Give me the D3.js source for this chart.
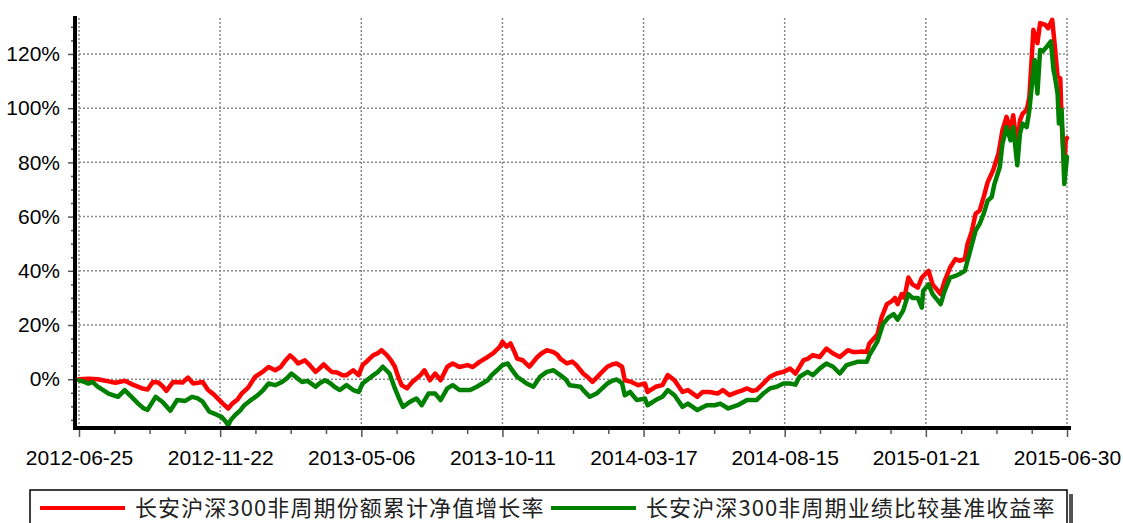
<!DOCTYPE html>
<html><head><meta charset="utf-8">
<script src="https://cdn.jsdelivr.net/npm/d3@7"></script>
<style>
html,body{margin:0;padding:0;background:#fff;}
svg{display:block;}
</style>
</head><body>
<svg id="chart" width="1123" height="523"></svg>
<script>
// ---- data (trading-day index from 2012-06-25, cumulative return %) ----
const tickLabels = ["2012-06-25","2012-11-22","2013-05-06","2013-10-11","2014-03-17","2014-08-15","2015-01-21","2015-06-30"];
const tickDays = [0,105,210,315,420,525,630,735];
const yTickValues = [0,20,40,60,80,100,120];
const seriesNames = ["长安沪深300非周期份额累计净值增长率","长安沪深300非周期业绩比较基准收益率"];
const seriesColors = ["#ff0000","#008000"];

const redDays = [0,7,14,22,27,34,40,47,51,55,59,62,65,70,77,81,85,92,96,100,103,107,111,114,118,121,126,131,136,141,146,150,153,157,160,163,168,172,176,179,182,185,188,192,196,199,204,208,211,215,219,222,225,229,232,235,237,240,244,248,254,257,261,265,269,274,278,283,289,293,298,304,308,313,315,318,321,324,326,330,335,341,344,348,353,356,358,363,367,370,375,379,382,385,388,393,397,400,404,406,411,416,421,423,429,434,438,443,449,453,460,464,469,475,479,484,490,493,497,501,504,509,514,519,524,529,533,536,539,542,546,551,556,561,566,572,576,579,582,586,588,594,597,601,605,607,609,612,614,617,620,624,627,632,635,641,644,648,652,655,659,661,664,667,670,673,676,680,684,687,690,693,695,698,700,702,705,707,710,713,715,719,721,724,726,728,730,731,733,734,735];
const redPct  = [0,0.2,0,-0.8,-1.3,-0.6,-2.0,-3.4,-3.8,-1,-1.2,-2.5,-4.3,-1,-1.2,0.6,-1.6,-1,-4,-5.5,-7,-9,-10.8,-9,-7.5,-5.3,-3,0.9,2.5,4.5,3.3,4.5,6.5,8.8,7.5,5.8,7,5,2.7,4,5.5,4,2.7,2.5,1.5,1.5,3.3,1.5,5.2,7,8.9,9.5,10.7,8.9,7,4.6,1.5,-2.2,-3.4,-1,1.5,3.3,-0.4,2.1,-0.4,4.6,5.8,4.5,5.2,4.5,6.4,8.2,9.5,11.9,13.8,12,13.2,10,7.6,7,4.6,8.2,9.5,10.7,10,9,7.6,5.8,6.5,5.2,2.1,0.5,-1,0.5,2.1,4.6,5.5,5.8,4.6,-0.4,-1,-2.2,-1.6,-4.7,-2.8,-2.2,1.5,-0.4,-4.7,-4,-6.5,-4.7,-4.7,-5.3,-4,-5.9,-4.7,-4.2,-3.4,-4.3,-4,-1.6,0.9,2.1,2.7,3.9,2.1,4.5,7,7.5,8.9,8.2,11.3,9.5,8.2,10.7,10,10,10.2,10,13.2,16.5,22.7,27.7,28.9,30,27.7,31.4,30,37.5,35,33.8,37.5,40,35,31.4,36.3,41.2,44.3,43.7,44.3,49.9,54.2,61,62.2,67.2,72.7,77,83.2,91.9,96.8,91.9,97.4,85,95.5,98,99.3,104,128.9,124,131.4,130.7,129.5,132.6,122.7,111.6,111,95,78,88,89];

const greenDays = [0,4,7,10,14,18,22,29,34,40,44,48,51,57,62,68,73,79,84,88,92,97,102,106,109,111,113,116,120,123,127,133,137,141,146,151,155,158,162,166,170,176,179,183,187,190,194,199,204,208,211,215,219,222,226,231,235,238,241,246,251,255,260,265,269,274,278,283,291,296,304,307,311,315,319,322,326,330,333,338,343,348,353,358,362,365,373,376,380,385,389,393,397,400,404,406,410,415,421,423,429,434,438,443,449,453,460,467,473,477,483,490,497,504,509,514,519,524,529,533,536,542,546,551,556,561,566,571,579,586,588,594,598,602,606,609,613,617,620,624,627,628,632,635,641,644,648,652,655,659,663,667,670,673,676,679,681,685,687,690,693,695,698,700,702,705,707,710,711,713,715,717,720,723,725,726,728,729,731,733,735];
const greenPct  = [-0.4,-1,-1.6,-1,-2.8,-4,-5.3,-6.5,-4,-7,-9,-10.7,-11.3,-6.5,-8.3,-11.6,-7.7,-8,-6.5,-7,-8.3,-12,-13,-13.9,-15.5,-17,-15,-13.3,-11.5,-9.6,-8,-5.9,-4,-1.6,-2.2,-1,0.5,2.1,0.5,-1,-0.6,-2.8,-1.5,-0.4,-1.5,-2.8,-4,-2.2,-4,-4.7,-1.6,0,1.5,2.5,4.6,2.1,-3.4,-7,-10.2,-8.4,-7.1,-9.6,-5.3,-5.3,-7.7,-3.4,-2.2,-4,-4,-2.8,-0.4,1.5,3.3,5.2,5.8,3.5,0.9,-0.5,-1.6,-2.8,0.9,2.7,3.3,1.5,0,-2.2,-2.8,-4.5,-6.5,-5.3,-3.5,-1.6,-0.5,-0.1,-1.5,-5.9,-4.7,-7.7,-7.1,-9.6,-7.7,-6.5,-4,-5.9,-10.2,-9,-11.4,-9.6,-9.6,-9,-10.8,-9.6,-7.7,-7.7,-5.3,-3.4,-2.8,-1.6,-1.6,-2,0.9,2.7,1.5,3.9,5.8,4.6,2.1,5.2,6.4,6.4,8.9,14,20.2,22.7,24,22,25.2,31.4,30,30,26.4,32.6,35,31.4,27.7,32.6,37.5,38.1,38.8,40,47.4,54.8,57.3,61,65.9,67.2,72,78.3,86.9,93,88.1,93,78.9,90.6,94.3,93,99.3,114,117.8,105.4,121.5,121,122.7,124.6,114,111.6,105.4,94.3,99.3,72,82];

// ---- drawing ----
const svg = d3.select("#chart");
const x = d3.scaleLinear().domain([0, 735]).range([79, 1067]);
const y = d3.scaleLinear().domain([-18, 134]).range([428, 16]);
const axisFont = "'Liberation Sans', Arial, sans-serif";

// grid
const grid = svg.append("g");
grid.selectAll("line.h").data(yTickValues).enter().append("line")
  .attr("x1", 75).attr("x2", 1068)
  .attr("y1", d => y(d)).attr("y2", d => y(d))
  .attr("stroke", "#888").attr("stroke-width", 1.5).attr("stroke-dasharray", "2,2");
grid.selectAll("line.v").data(tickDays).enter().append("line")
  .attr("x1", d => x(d)).attr("x2", d => x(d))
  .attr("y1", 18).attr("y2", 428)
  .attr("stroke", "#888").attr("stroke-width", 1.5).attr("stroke-dasharray", "2,2");

// series
const redData = redDays.map((d, i) => [d, redPct[i]]);
const greenData = greenDays.map((d, i) => [d, greenPct[i]]);
const line = d3.line().x(d => x(d[0])).y(d => y(d[1]));
[redData, greenData].forEach((data, i) => {
  svg.append("path").datum(data)
    .attr("d", line).attr("fill", "none")
    .attr("stroke", seriesColors[i]).attr("stroke-width", 4.5)
    .attr("stroke-linejoin", "round").attr("stroke-linecap", "round");
});

// y axis
const minorY = d3.range(-15, 135, 5).filter(v => v % 20 !== 0);
const yMinor = svg.append("g").attr("transform", "translate(75,0)")
  .call(d3.axisLeft(y).tickValues(minorY).tickSize(4).tickFormat(""));
const yAxis = svg.append("g").attr("transform", "translate(75,0)")
  .call(d3.axisLeft(y).tickValues(yTickValues).tickSize(7).tickPadding(8).tickFormat(d => d + "%"));

// x axis
const minorX = d3.range(0, 736, 26.25).filter(v => v % 105 !== 0);
const xMinor = svg.append("g").attr("transform", "translate(0,428)")
  .call(d3.axisBottom(x).tickValues(minorX).tickSize(6).tickFormat(""));
const xAxis = svg.append("g").attr("transform", "translate(0,428)")
  .call(d3.axisBottom(x).tickValues(tickDays).tickSize(9).tickPadding(13).tickFormat((d, i) => tickLabels[i]));

[yMinor, yAxis, xMinor, xAxis].forEach(g => {
  g.select(".domain").remove();
  g.selectAll(".tick line").attr("stroke", "#555").attr("stroke-width", 1.5);
  g.selectAll("text").attr("font-family", axisFont).attr("font-size", 21).attr("fill", "#000");
});

// bold axis lines
svg.append("line").attr("x1", 75).attr("x2", 75).attr("y1", 16).attr("y2", 430)
  .attr("stroke", "#000").attr("stroke-width", 4);
svg.append("line").attr("x1", 73).attr("x2", 1071).attr("y1", 428).attr("y2", 428)
  .attr("stroke", "#000").attr("stroke-width", 4);

// legend
const lg = svg.append("g");
lg.append("rect").attr("x", 1069).attr("y", 494).attr("width", 4).attr("height", 40).attr("fill", "#555");
lg.append("rect").attr("x", 30).attr("y", 490).attr("width", 1037).attr("height", 40)
  .attr("fill", "#fff").attr("stroke", "#000").attr("stroke-width", 1.5);
const legendLineX = [[40, 125], [551, 636]];
const legendTextX = [135, 646];
seriesNames.forEach((name, i) => {
  lg.append("line").attr("x1", legendLineX[i][0]).attr("x2", legendLineX[i][1])
    .attr("y1", 508).attr("y2", 508)
    .attr("stroke", seriesColors[i]).attr("stroke-width", 4);
  lg.append("text").attr("x", legendTextX[i]).attr("y", 508).attr("dy", "0.36em")
    .attr("font-family", "'Noto Sans CJK SC', sans-serif").attr("font-size", 22)
    .attr("letter-spacing", 1.1)
    .attr("fill", "#222").text(name);
});
</script>
</body></html>
